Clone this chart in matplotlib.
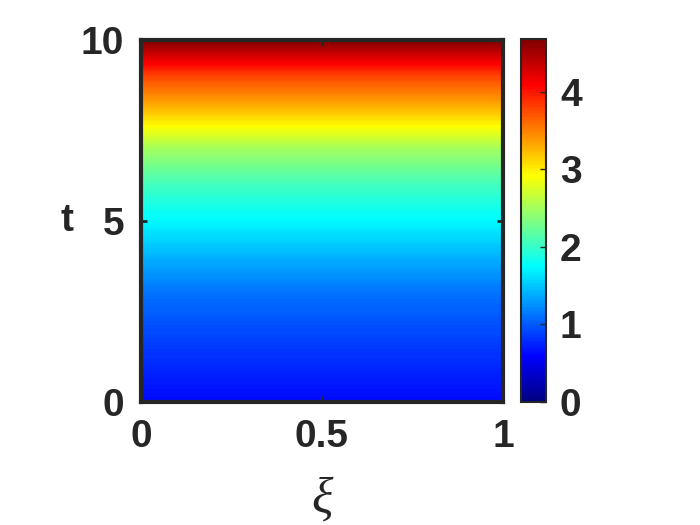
import matplotlib
matplotlib.use('Agg')
import matplotlib.pyplot as plt
from matplotlib.colors import LinearSegmentedColormap
import numpy as np

# values: field depends on t only
t_vals = [0, 1, 2, 3, 4, 5, 6, 7, 8, 9, 10]
u_vals = [0.62, 0.77, 0.93, 1.11, 1.4, 1.73, 2.05, 2.5, 3.19, 3.78, 4.68]
xi_vals = [0, 1]
clim = (0, 4.68)

x_ticks = [0, 0.5, 1]
x_ticklabels = ['0', '0.5', '1']
y_ticks = [0, 5, 10]
cb_ticks = [0, 1, 2, 3, 4]

# MATLAB style jet (differs slightly from matplotlib's)
matlab_jet = LinearSegmentedColormap('matlab_jet', {
    'red':   [(0, 0, 0), (3/8, 0, 0), (5/8, 1, 1), (7/8, 1, 1), (1, 0.5, 0.5)],
    'green': [(0, 0, 0), (1/8, 0, 0), (3/8, 1, 1), (5/8, 1, 1), (7/8, 0, 0), (1, 0, 0)],
    'blue':  [(0, 0.5, 0.5), (1/8, 1, 1), (3/8, 1, 1), (5/8, 0, 0), (1, 0, 0)],
}, N=256)

plt.rcParams['font.family'] = ['Liberation Sans', 'DejaVu Sans']
plt.rcParams['font.weight'] = 'bold'
edge = '#262626'

fig = plt.figure(figsize=(7, 5.25), dpi=100)
ax = fig.add_axes([0.2014, 0.2343, 0.5171, 0.6895])
cax = fig.add_axes([0.7443, 0.2343, 0.0357, 0.6914])

XI, T = np.meshgrid(xi_vals, t_vals)
U = np.tile(np.array(u_vals)[:, None], (1, len(xi_vals)))
# many fill levels so the shading looks continuous (interp in data space)
levels = np.linspace(clim[0], clim[1], 300)
cs = ax.contourf(XI, T, U, levels=levels, cmap=matlab_jet, vmin=clim[0], vmax=clim[1],
                 antialiased=False)

ax.set_xlim(0, 1)
ax.set_ylim(0, 10)
ax.set_xticks(x_ticks)
ax.set_xticklabels(x_ticklabels)
ax.set_yticks(y_ticks)
ax.tick_params(direction='in', length=4, width=2, color=edge, labelsize=28,
               labelcolor=edge, top=True, right=True, pad=12)
for s in ax.spines.values():
    s.set_linewidth(3)
    s.set_color(edge)

ax.set_ylabel('t', fontsize=28, fontweight='bold', color=edge, rotation=0,
              labelpad=10, va='center')
ax.set_xlabel('ξ', fontsize=36, fontweight='normal', fontstyle='italic',
              family='Liberation Serif', color=edge, labelpad=16)

sm = plt.cm.ScalarMappable(cmap=matlab_jet, norm=plt.Normalize(*clim))
cb = fig.colorbar(sm, cax=cax, ticks=cb_ticks)
cb.ax.tick_params(direction='in', length=4, width=1, color=edge, labelsize=28,
                  labelcolor=edge, pad=10)
cb.outline.set_linewidth(1.5)
cb.outline.set_edgecolor(edge)

fig.savefig('out.png', dpi=100)
